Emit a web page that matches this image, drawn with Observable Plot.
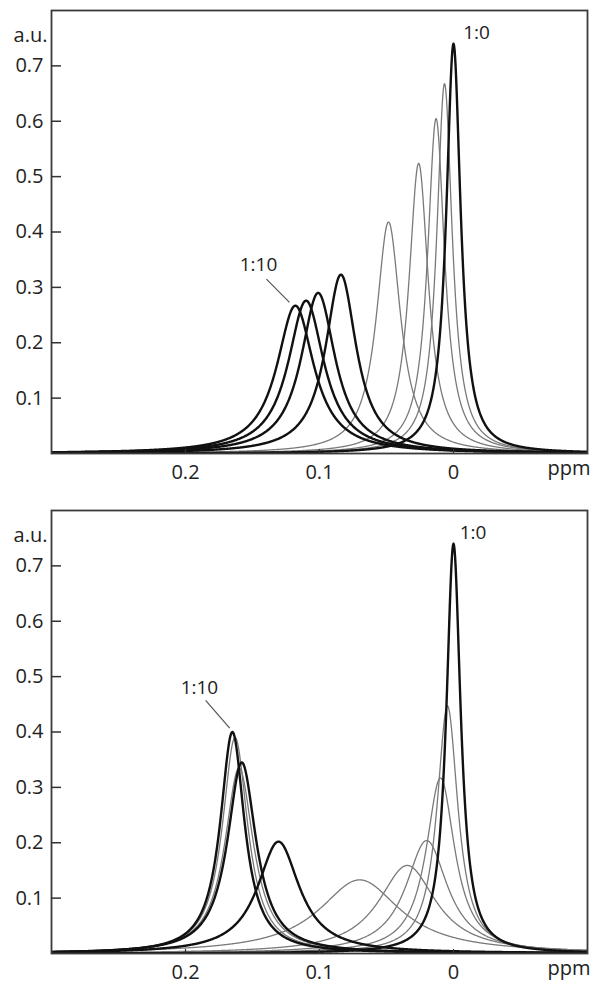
<!DOCTYPE html>
<html>
<head>
<meta charset="utf-8">
<script src="https://cdn.jsdelivr.net/npm/d3@7"></script>
<script src="https://cdn.jsdelivr.net/npm/@observablehq/plot@0.6"></script>
<style>
  html, body { margin: 0; padding: 0; background: #fff; }
  #chart { width: 600px; }
  #chart svg { display: block; }
</style>
</head>
<body>
<div id="chart"></div>
<script>
// ---- Data (peak position ppm, peak height a.u., half-width ppm) ----
const topCenters = [0.000, 0.0067, 0.013, 0.026, 0.0485, 0.084, 0.101, 0.110, 0.118];
const topHeights = [0.740, 0.668, 0.605, 0.524, 0.418, 0.323, 0.290, 0.276, 0.267];
const topWidths  = [0.0065, 0.0070, 0.0077, 0.0088, 0.0110, 0.0140, 0.0155, 0.0163, 0.0168];
const topStyles  = ["thick", "thin", "thin", "thin", "thin", "thick", "thick", "thick", "thick"];

const botCenters = [0.000, 0.0045, 0.0097, 0.020, 0.0345, 0.070, 0.1306, 0.158, 0.160, 0.163, 0.165];
const botHeights = [0.740, 0.447, 0.317, 0.204, 0.159, 0.133, 0.202, 0.345, 0.335, 0.390, 0.400];
const botWidths  = [0.0065, 0.0095, 0.013, 0.019, 0.026, 0.037, 0.019, 0.013, 0.013, 0.0115, 0.011];
const botStyles  = ["thick", "thin", "thin", "thin", "thin", "thin", "thick", "thick", "thin", "thin", "thick"];

const xTicks = [0.2, 0.1, 0];
const yTicks = [0.1, 0.2, 0.3, 0.4, 0.5, 0.6, 0.7];
const xDomain = [0.3, -0.1];
const yDomain = [0, 0.8];

// annotation labels (data coordinates, text centred)
const topLabels = [{text: "1:0", x: -0.0172, y: 0.759}, {text: "1:10", x: 0.1455, y: 0.340}];
const topArrow  = [{x1: 0.1396, y1: 0.315, x2: 0.1224, y2: 0.273}];
const botLabels = [{text: "1:0", x: -0.0146, y: 0.759}, {text: "1:10", x: 0.1896, y: 0.479}];
const botArrow  = [{x1: 0.185, y1: 0.457, x2: 0.167, y2: 0.407}];

// ---- build Lorentzian line shapes from the read peak parameters ----
function spectra(centers, heights, widths, styles) {
  const xs = d3.range(xDomain[1], xDomain[0] + 1e-9, 0.0004);
  const rows = [];
  centers.forEach((c, i) => {
    const g2 = widths[i] * widths[i];
    xs.forEach(x => {
      const d = x - c;
      rows.push({id: i, style: styles[i], x, y: heights[i] * g2 / (g2 + d * d)});
    });
  });
  return rows;
}

const font = "'Open Sans', 'DejaVu Sans', sans-serif";

function panel(rows, labels, arrow, opts) {
  const thin = rows.filter(d => d.style === "thin");
  const thick = rows.filter(d => d.style === "thick");
  return Plot.plot({
    width: 600,
    height: opts.height,
    marginLeft: 51,
    marginRight: 13,
    marginTop: opts.marginTop,
    marginBottom: opts.marginBottom,
    style: {fontFamily: font, fontSize: "20px", color: "#222", background: "#fff"},
    x: {domain: xDomain, axis: null},
    y: {domain: yDomain, axis: null},
    marks: [
      Plot.line(thin, {x: "x", y: "y", z: "id", stroke: "#7a7a7a", strokeWidth: 1.3, clip: true}),
      Plot.line(thick, {x: "x", y: "y", z: "id", stroke: "#111", strokeWidth: 2.4, clip: true}),
      Plot.frame({stroke: "#3a3a3a", strokeWidth: 1.8}),
      // y axis: inward ticks + labels
      Plot.axisY({ticks: yTicks, anchor: "left", tickSize: -10, tickFormat: () => "", stroke: "#333", strokeWidth: 1.5}),
      Plot.axisY({ticks: yTicks, anchor: "left", tickSize: 0, tickPadding: 8, tickFormat: d3.format(".1f"), fontSize: 20, fill: "#222"}),
      // x axis: short inward ticks + labels
      Plot.axisX({ticks: xTicks, anchor: "bottom", tickSize: -4, tickFormat: () => "", stroke: "#333", strokeWidth: 1.2}),
      Plot.axisX({ticks: xTicks, anchor: "bottom", tickSize: 0, tickPadding: 11, tickFormat: d => d === 0 ? "0" : d3.format(".1f")(d), fontSize: 20, fill: "#222"}),
      Plot.text(["ppm"], {frameAnchor: "bottom-right", text: d => d, textAnchor: "end", dx: 3, dy: 21, fontSize: 20, fill: "#222"}),
      Plot.text(["a.u."], {frameAnchor: "top-left", text: d => d, textAnchor: "end", dx: -4, dy: 17, fontSize: 20, fill: "#222"}),
      Plot.link(arrow, {x1: "x1", y1: "y1", x2: "x2", y2: "y2", stroke: "#555", strokeWidth: 1.2}),
      Plot.text(labels, {x: "x", y: "y", text: "text", textAnchor: "middle", fontSize: 19, fill: "#222"})
    ]
  });
}

const chart = document.getElementById("chart");
chart.append(panel(spectra(topCenters, topHeights, topWidths, topStyles), topLabels, topArrow,
  {height: 497, marginTop: 10, marginBottom: 44}));
chart.append(panel(spectra(botCenters, botHeights, botWidths, botStyles), botLabels, botArrow,
  {height: 496, marginTop: 13, marginBottom: 40}));
</script>
</body>
</html>
